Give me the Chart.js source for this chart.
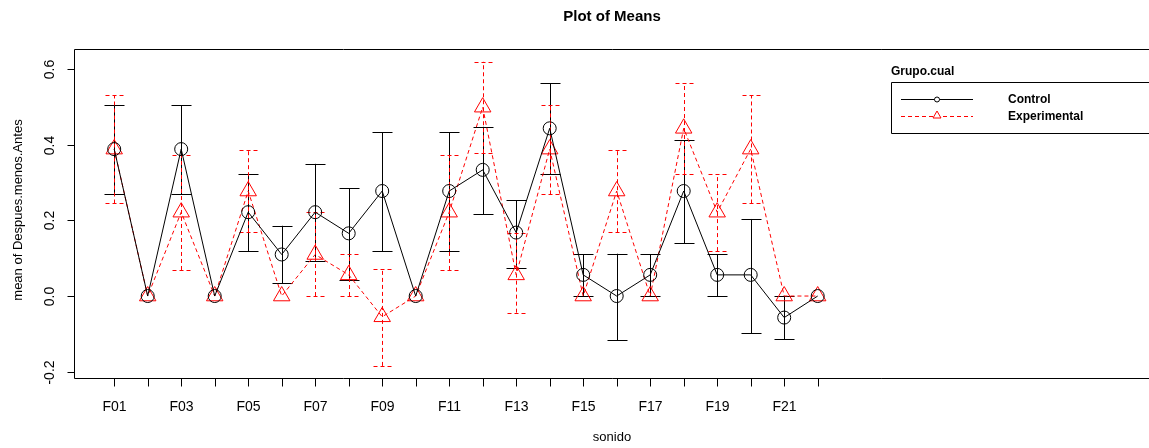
<!DOCTYPE html>
<html>
<head>
<meta charset="utf-8">
<script src="https://cdn.jsdelivr.net/npm/chart.js@4.4.1/dist/chart.umd.min.js"></script>
<style>
  html, body { margin: 0; padding: 0; background: #fff; overflow: hidden; }
  canvas { display: block; }
</style>
</head>
<body>
<canvas id="meansChart" width="1149" height="448"></canvas>
<script>
// sound categories F01..F22
const labels = ['F01','F02','F03','F04','F05','F06','F07','F08','F09','F10','F11',
                'F12','F13','F14','F15','F16','F17','F18','F19','F20','F21','F22'];

// Control group: means and error bar limits
const controlMean = [0.389, 0, 0.389, 0, 0.222, 0.110, 0.222, 0.166, 0.278, 0, 0.278,
                     0.334, 0.168, 0.444, 0.056, 0, 0.056, 0.278, 0.056, 0.056, -0.057, 0];
const controlHigh = [0.505, 0, 0.505, 0, 0.322, 0.186, 0.350, 0.285, 0.434, 0, 0.434,
                     0.448, 0.254, 0.563, 0.110, 0.112, 0.110, 0.413, 0.110, 0.204, 0, 0];
const controlLow  = [0.269, 0, 0.269, 0, 0.119, 0.034, 0.093, 0.042, 0.119, 0, 0.119,
                     0.217, 0.075, 0.323, 0, -0.117, 0, 0.140, 0, -0.099, -0.115, 0];

// Experimental group: means and error bar limits
const expMean = [0.389, 0, 0.222, 0, 0.278, 0, 0.110, 0.056, -0.055, 0, 0.222,
                 0.500, 0.056, 0.389, 0, 0.278, 0, 0.444, 0.222, 0.389, 0, 0];
const expHigh = [0.531, 0, 0.373, 0, 0.386, 0, 0.222, 0.110, 0.071, 0, 0.373,
                 0.620, 0.168, 0.505, 0, 0.386, 0, 0.563, 0.322, 0.531, 0, 0];
const expLow  = [0.245, 0, 0.069, 0, 0.169, 0, 0, 0, -0.185, 0, 0.069,
                 0.378, -0.044, 0.269, 0, 0.169, 0, 0.323, 0.119, 0.245, 0, 0];

const yTicks = [-0.2, 0.0, 0.2, 0.4, 0.6];

const FONT = '"Liberation Sans", Arial, sans-serif';

// error bars, axes, title and legend drawn R-style
const rStylePlugin = {
    id: 'rStyle',
    beforeDatasetsDraw(chart) {
        const ctx = chart.ctx;
        const xs = chart.scales.x, ys = chart.scales.y;
        const bars = [
            { lo: controlLow, hi: controlHigh, color: '#000', dash: [], cap: 10 },
            { lo: expLow, hi: expHigh, color: '#ff0000', dash: [4, 3], cap: 9 }
        ];
        ctx.save();
        ctx.lineWidth = 1;
        bars.forEach(b => {
            ctx.strokeStyle = b.color;
            ctx.setLineDash(b.dash);
            b.lo.forEach((lo, i) => {
                const hi = b.hi[i];
                if (hi === lo) return;
                const x = Math.round(xs.getPixelForValue(i)) + 0.5;
                const y1 = ys.getPixelForValue(lo), y2 = ys.getPixelForValue(hi);
                ctx.beginPath();
                ctx.moveTo(x, y1); ctx.lineTo(x, y2);
                ctx.moveTo(x - b.cap, Math.round(y1) + 0.5); ctx.lineTo(x + b.cap, Math.round(y1) + 0.5);
                ctx.moveTo(x - b.cap, Math.round(y2) + 0.5); ctx.lineTo(x + b.cap, Math.round(y2) + 0.5);
                ctx.stroke();
            });
        });
        ctx.restore();
    },
    afterDraw(chart) {
        const ctx = chart.ctx;
        const a = chart.chartArea;
        const xs = chart.scales.x, ys = chart.scales.y;
        const W = chart.width + 5;
        ctx.save();
        ctx.strokeStyle = '#000';
        ctx.lineWidth = 1;
        ctx.setLineDash([]);
        // frame (right side runs past the picture)
        const L = Math.round(a.left) + 0.5, T = Math.round(a.top) + 0.5, B = Math.round(a.bottom) + 0.5;
        ctx.beginPath();
        ctx.moveTo(W, T); ctx.lineTo(L, T); ctx.lineTo(L, B); ctx.lineTo(W, B);
        ctx.stroke();
        // x axis ticks and labels
        ctx.fillStyle = '#000';
        ctx.font = '14px ' + FONT;
        ctx.textAlign = 'center';
        ctx.textBaseline = 'middle';
        labels.forEach((lab, i) => {
            const x = Math.round(xs.getPixelForValue(i)) + 0.5;
            ctx.beginPath();
            ctx.moveTo(x, B); ctx.lineTo(x, B + 8);
            ctx.stroke();
            if (i % 2 === 0) ctx.fillText(lab, x, 407);
        });
        // y axis ticks and rotated labels
        yTicks.forEach(v => {
            const y = Math.round(ys.getPixelForValue(v)) + 0.5;
            ctx.beginPath();
            ctx.moveTo(L, y); ctx.lineTo(L - 7, y);
            ctx.stroke();
            ctx.save();
            ctx.translate(50, y);
            ctx.rotate(-Math.PI / 2);
            ctx.fillText(v.toFixed(1), 0, 0);
            ctx.restore();
        });
        // axis titles
        ctx.font = '13px ' + FONT;
        ctx.fillText('sonido', 612, 437);
        ctx.save();
        ctx.translate(18, 210);
        ctx.rotate(-Math.PI / 2);
        ctx.fillText('mean of Despues.menos.Antes', 0, 0);
        ctx.restore();
        // main title
        ctx.font = 'bold 15px ' + FONT;
        ctx.fillText('Plot of Means', 612, 17);
        // legend (box also runs past the right edge)
        ctx.textAlign = 'left';
        ctx.font = 'bold 12px ' + FONT;
        ctx.fillText('Grupo.cual', 891, 72);
        ctx.beginPath();
        ctx.moveTo(W, 82.5); ctx.lineTo(891.5, 82.5); ctx.lineTo(891.5, 133.5); ctx.lineTo(W, 133.5);
        ctx.stroke();
        ctx.beginPath();
        ctx.moveTo(901, 99.5); ctx.lineTo(973, 99.5);
        ctx.stroke();
        ctx.beginPath();
        ctx.arc(937, 99.5, 2.5, 0, Math.PI * 2);
        ctx.fillStyle = '#fff';
        ctx.fill();
        ctx.stroke();
        ctx.strokeStyle = '#ff0000';
        ctx.setLineDash([4, 3]);
        ctx.beginPath();
        ctx.moveTo(901, 116.5); ctx.lineTo(973, 116.5);
        ctx.stroke();
        ctx.setLineDash([]);
        ctx.beginPath();
        ctx.moveTo(937, 111); ctx.lineTo(941, 118); ctx.lineTo(933, 118); ctx.closePath();
        ctx.fill();
        ctx.stroke();
        ctx.fillStyle = '#000';
        ctx.font = 'bold 12px ' + FONT;
        ctx.fillText('Control', 1008, 100);
        ctx.fillText('Experimental', 1008, 117);
        ctx.restore();
    }
};

const ctx = document.getElementById('meansChart').getContext('2d');
new Chart(ctx, {
    type: 'line',
    data: {
        datasets: [
            {
                label: 'Control',
                data: controlMean.map((v, i) => ({ x: i, y: v })),
                borderColor: '#000',
                borderWidth: 1,
                backgroundColor: 'rgba(0,0,0,0)',
                pointStyle: 'circle',
                pointRadius: 6.5,
                pointBorderColor: '#000',
                pointBackgroundColor: 'rgba(0,0,0,0)',
                pointBorderWidth: 1,
                tension: 0,
                fill: false
            },
            {
                label: 'Experimental',
                data: expMean.map((v, i) => ({ x: i, y: v })),
                borderColor: '#ff0000',
                borderWidth: 1,
                borderDash: [4, 3],
                backgroundColor: 'rgba(0,0,0,0)',
                pointStyle: 'triangle',
                pointRadius: 9.5,
                pointBorderColor: '#ff0000',
                pointBackgroundColor: 'rgba(0,0,0,0)',
                pointBorderWidth: 1,
                tension: 0,
                fill: false
            }
        ]
    },
    options: {
        responsive: false,
        animation: false,
        events: [],
        layout: { autoPadding: false, padding: { left: 74, top: 49, right: 0, bottom: 70 } },
        plugins: {
            legend: { display: false },
            tooltip: { enabled: false }
        },
        scales: {
            x: {
                type: 'linear',
                min: -1.2,
                max: 30.89,
                display: false
            },
            y: {
                min: -0.217,
                max: 0.654,
                display: false
            }
        }
    },
    plugins: [rStylePlugin]
});
</script>
</body>
</html>
